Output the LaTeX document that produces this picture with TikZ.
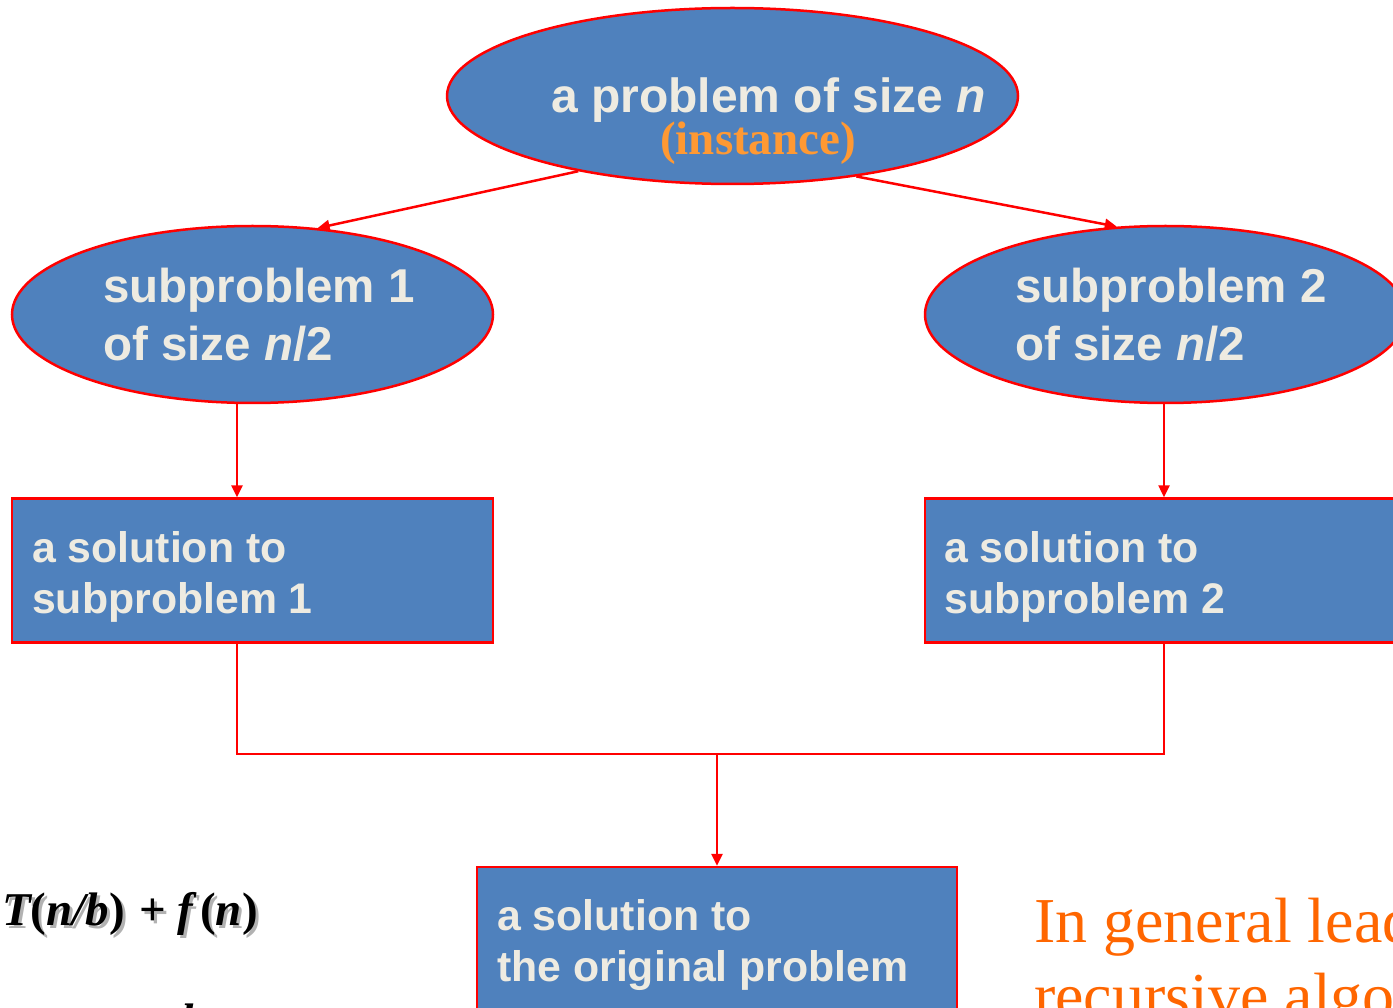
\documentclass[tikz,border=0pt]{standalone}
\usepackage{fontspec}
\setmainfont{Liberation Serif}
\newfontfamily\arialf{Liberation Sans}
\usetikzlibrary{shapes.geometric,arrows.meta}
\definecolor{boxblue}{HTML}{4F81BD}
\definecolor{linered}{HTML}{FF0000}
\definecolor{paper}{HTML}{EEEBE1}
\definecolor{instorange}{HTML}{FF9933}
\definecolor{noteorange}{HTML}{FF6600}
\newcommand\fbi[1]{{\bfseries\itshape #1}}
\newcommand\fbu[1]{{\bfseries #1}}
\newcommand\recurrence{\fbi{T}\fbu{(}\fbi{n/b}\fbu{)\hspace{0.3em}+\hspace{0.25em}}\fbi{f}\hspace{0.15em}\fbu{(}\fbi{n}\fbu{)}}
\begin{document}
\begin{tikzpicture}[x=1pt,y=-1pt,
  bubble/.style={ellipse, fill=boxblue, draw=linered, line width=2.5pt, inner sep=0pt},
  solbox/.style={rectangle, fill=boxblue, draw=linered, line width=2.5pt, inner sep=0pt},
  big/.style={font=\arialf\bfseries\fontsize{47.5}{58}\selectfont, text=paper, anchor=base west, inner sep=0pt},
  mid/.style={font=\arialf\bfseries\fontsize{42.8}{51}\selectfont, text=paper, anchor=base west, inner sep=0pt},
  formula/.style={font=\fontsize{47}{52}\selectfont, anchor=base west, inner sep=0pt},
  note/.style={font=\fontsize{64}{75}\selectfont, text=noteorange, anchor=base west, inner sep=0pt},
  link/.style={draw=linered, line width=2.5pt},
  arr/.style={link, -{Triangle[length=12pt,width=11pt]}}
]
\useasboundingbox (0,0) rectangle (1393,1008);

% shapes
\node[bubble, minimum width=571pt, minimum height=176pt] (top) at (732.5,96) {};
\node[bubble, minimum width=481pt, minimum height=177pt] (sub1) at (252.5,314.5) {};
\node[bubble, minimum width=481pt, minimum height=177pt] (sub2) at (1165.5,314.5) {};
\node[solbox, minimum width=481pt, minimum height=144pt] (sol1) at (252.5,570.5) {};
\node[solbox, minimum width=481pt, minimum height=144pt] (sol2) at (1165.5,570.5) {};
\node[solbox, minimum width=480pt, minimum height=160pt] (sol) at (717,947) {};

% labels
\node[big, font=\arialf\bfseries\fontsize{48}{58}\selectfont] (topa) at (551,113) {a problem of size \textit{n}};
\node[font=\bfseries\fontsize{47}{50}\selectfont, text=instorange, anchor=base west, inner sep=0pt] (inst) at (660,155) {(instance)};
\node[big] (sub1a) at (103,303) {subproblem 1};
\node[big] (sub1b) at (103,361) {of size \textit{n}/2};
\node[big] (sub2a) at (1015,303) {subproblem 2};
\node[big] (sub2b) at (1015,361) {of size \textit{n}/2};
\node[mid] (sol1a) at (32,562) {a solution to};
\node[mid] (sol1b) at (32,613) {subproblem 1};
\node[mid] (sol2a) at (944,562) {a solution to};
\node[mid] (sol2b) at (944,613) {subproblem 2};
\node[mid] (sola) at (497,930) {a solution to};
\node[mid] (solb) at (497,981) {the original problem};

% recurrence with its drop shadow
\node[formula, text=black!30] (recsh) at (5,928) {\recurrence};
\node[formula] (rec) at (2,925) {\recurrence};
\node[formula] (bfrag) at (181,1036) {\fbi{b}};

% note
\node[note] (note1) at (1034,942) {In general leads to a};
\node[note] (note2) at (1034,1017) {recursive algorithm.};

% connectors
\draw[arr] (top.206.6) -- (sub1.53.6);
\draw[arr] (top.327.9) -- (sub2.119.3);
\draw[arr] ([xshift=-15.5pt]sub1.south) -- ([xshift=-15.5pt]sol1.north);
\draw[arr] ([xshift=-1.5pt]sub2.south) -- ([xshift=-1.5pt]sol2.north);
\coordinate (d1) at ([xshift=-15.5pt]sol1.south);
\coordinate (d2) at ([xshift=-1.5pt]sol2.south);
\coordinate (join) at (717,754);
\draw[link] (d1) |- (join) -| (d2);
\draw[arr] (join) -- (sol.north);
\end{tikzpicture}
\end{document}
